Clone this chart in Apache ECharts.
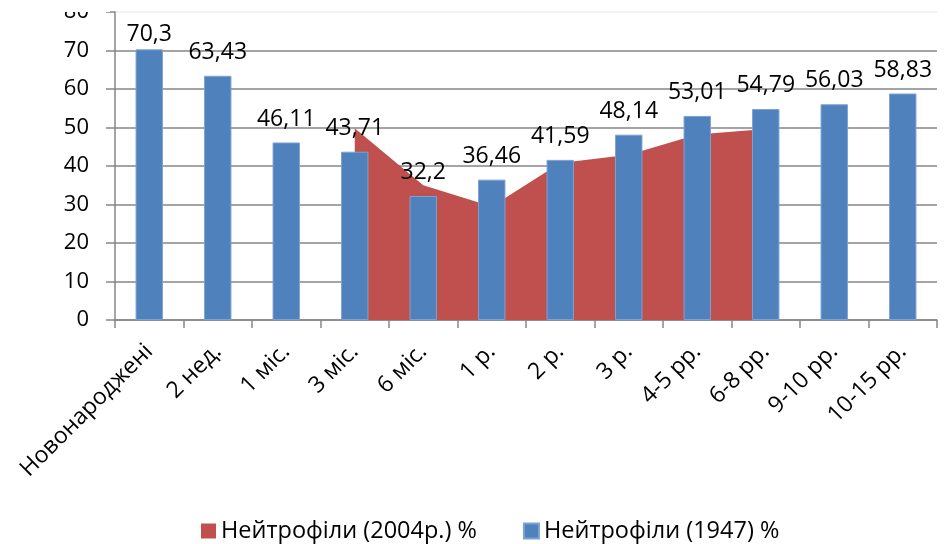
<!DOCTYPE html>
<html><head><meta charset="utf-8">
<script src="https://cdn.jsdelivr.net/npm/echarts@6/dist/echarts.min.js"></script>
<style>html,body{margin:0;padding:0;background:#fff}#c{width:949px;height:544px}</style>
</head><body><div id="c"></div>
<script>
const categories = ['Новонароджені','2 нед.','1 міс.','3 міс.','6 міс.','1 р.','2 р.','3 р.','4-5 рр.','6-8 рр.','9-10 рр.','10-15 рр.'];
const values1947 = [70.3,63.43,46.11,43.71,32.2,36.46,41.59,48.14,53.01,54.79,56.03,58.83];
const labels1947 = ['70,3','63,43','46,11','43,71','32,2','36,46','41,59','48,14','53,01','54,79','56,03','58,83'];
const values2004 = [null,null,null,49.8,35,29.5,40.8,42.9,48.2,49.6,null,null];
const yTicks = [0,10,20,30,40,50,60,70,80];
const seriesNames = ['Нейтрофіли (2004р.) %','Нейтрофіли (1947) %'];

const FONT = 'Open Sans';
const chart = echarts.init(document.getElementById('c'));
const barData = values1947.map((v,i)=>{
  const item = {value:v};
  if (i===0) item.label = {distance:3};
  return item;
});
const gridColors = yTicks.map((t,i)=> i===yTicks.length-1 ? '#eeeeee' : '#868686');
chart.setOption({
  animation:false,
  textStyle:{fontFamily:FONT},
  grid:{left:115,right:12,top:12,bottom:224},
  graphic:[{type:'rect',left:0,top:0,shape:{width:110,height:12},style:{fill:'#fff'},z:100,silent:true}],
  legend:{
    data:seriesNames, bottom:-4, left:196,
    itemWidth:15, itemHeight:15, itemGap:46, itemTextGap:6,
    icon:'rect',
    textStyle:{fontSize:23.5,color:'#000',fontFamily:FONT}
  },
  xAxis:{
    type:'category', data:categories, boundaryGap:true,
    axisLine:{lineStyle:{color:'#868686',width:1.5}},
    axisTick:{show:true,length:8,lineStyle:{color:'#868686',width:1.5}},
    axisLabel:{rotate:45,fontSize:23,color:'#000',margin:28,interval:0,fontFamily:FONT}
  },
  yAxis:{
    type:'value', min:yTicks[0], max:yTicks[yTicks.length-1], interval:10,
    axisLine:{show:true,lineStyle:{color:'#868686',width:1.5}},
    axisTick:{show:true,length:9,lineStyle:{color:'#868686',width:1.5}},
    splitLine:{lineStyle:{color:gridColors,width:1.5}},
    axisLabel:{fontSize:22,color:'#000',margin:26,fontFamily:FONT}
  },
  series:[
    {
      name:seriesNames[0], type:'line', data:values2004,
      symbol:'none', z:1,
      lineStyle:{width:0,color:'#C0504D'},
      itemStyle:{color:'#C0504D'},
      areaStyle:{color:'#C0504D',opacity:1}
    },
    {
      name:seriesNames[1], type:'bar', data:barData, barWidth:'40%', z:3,
      itemStyle:{color:'#4F81BD',borderColor:'#7EA2D0',borderWidth:1},
      label:{show:true,position:'top',distance:12,fontSize:23,color:'#000',fontFamily:FONT,
        formatter:p=>labels1947[p.dataIndex]}
    }
  ]
});
</script></body></html>
